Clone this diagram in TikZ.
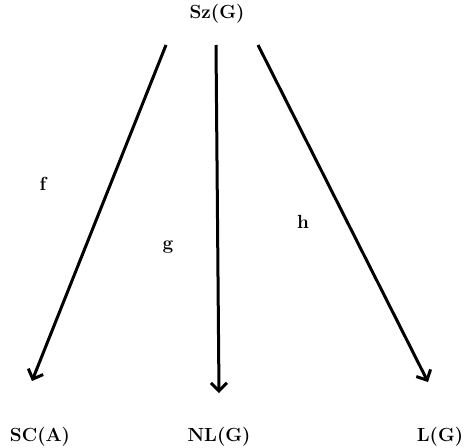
\documentclass[tikz,border=0pt]{standalone}
\usepackage{fontspec}
\usetikzlibrary{arrows.meta}
\begin{document}
\begin{tikzpicture}[x=1pt,y=-1pt,
  lbl/.style={font=\bfseries\fontsize{19}{21}\selectfont, inner sep=0pt},
  arr/.style={line width=3pt, -{Straight Barb[length=8pt,width=16pt,line width=3pt]}}]
\useasboundingbox (0,0) rectangle (465,447);
\node[lbl] (top) at (217,14) {Sz(G)};
\node[lbl] (sc) at (40,437) {SC(A)};
\node[lbl] (nl) at (219,437) {NL(G)};
\node[lbl] (lg) at (440,437) {L(G)};
\node[lbl] (f) at (43,184) {f};
\node[lbl] (g) at (168,247) {g};
\node[lbl] (h) at (303,222) {h};
\coordinate (fs) at (166,45);
\coordinate (fe) at (32,381);
\coordinate (gs) at (216,45);
\coordinate (ge) at (219,393);
\coordinate (hs) at (258,45);
\coordinate (he) at (428,382);
\draw[arr] (fs) -- (fe);
\draw[arr] (gs) -- (ge);
\draw[arr] (hs) -- (he);
\end{tikzpicture}
\end{document}
